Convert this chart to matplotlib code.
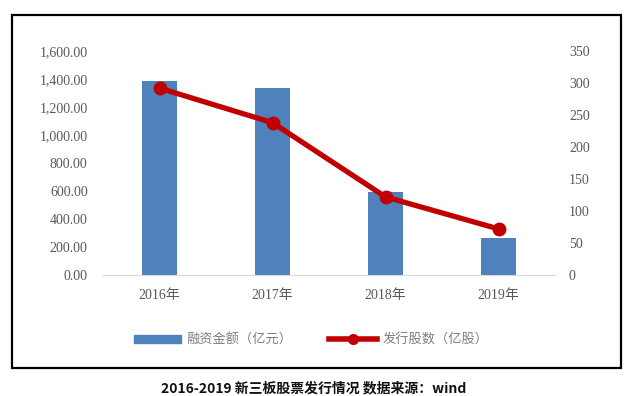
import matplotlib.pyplot as plt
import matplotlib.patches as mpatches
from matplotlib.lines import Line2D
from matplotlib.ticker import FuncFormatter
import numpy as np

years = ["2016年", "2017年", "2018年", "2019年"]
amount = [1385, 1333, 596, 264]      # 融资金额（亿元）
shares = [292, 238, 122, 72]         # 发行股数（亿股）

bar_color = "#4f81bd"
line_color = "#c00000"
text_color = "#595959"
fonts = ["Liberation Serif", "Noto Sans CJK SC"]

fig = plt.figure(figsize=(6.35, 3.96), dpi=100)
W, H = 635, 396

# outer frame
fig.patches.append(mpatches.Rectangle((12 / W, 1 - 368 / H), 609 / W, 353 / H,
                                      transform=fig.transFigure, fill=False,
                                      edgecolor="black", linewidth=1.6))

ax = fig.add_axes([103 / W, 1 - 275 / H, 452 / W, 224 / H])
x = np.arange(len(years))
ax.bar(x, amount, width=0.31, color=bar_color, zorder=2)
ax.set_xlim(-0.5, len(years) - 0.5)
ax.set_ylim(0, 1600)
ax.set_yticks(np.arange(0, 1601, 200))
ax.yaxis.set_major_formatter(FuncFormatter(lambda v, p: f"{v:,.2f}"))
ax.set_xticks(x)
ax.set_xticklabels(years)
for s in ["top", "right", "left"]:
    ax.spines[s].set_visible(False)
ax.spines["bottom"].set_color("#d9d9d9")
ax.tick_params(length=0, colors=text_color, labelsize=10)
ax.tick_params(axis="x", pad=10)
ax.tick_params(axis="y", pad=11)
for lab in ax.get_xticklabels() + ax.get_yticklabels():
    lab.set_family(fonts)

ax2 = ax.twinx()
ax2.plot(x, shares, color=line_color, linewidth=3.8, marker="o", markersize=9, zorder=3)
ax2.set_ylim(0, 350)
ax2.set_yticks(np.arange(0, 351, 50))
for s in ["top", "right", "left", "bottom"]:
    ax2.spines[s].set_visible(False)
ax2.tick_params(length=0, colors=text_color, labelsize=10, pad=10)
for lab in ax2.get_yticklabels():
    lab.set_family(fonts)

handles = [mpatches.Patch(color=bar_color),
           Line2D([0], [0], color=line_color, linewidth=4, marker="o", markersize=7)]
leg = fig.legend(handles, ["融资金额（亿元）", "发行股数（亿股）"], ncol=2,
                 loc="center", bbox_to_anchor=(311 / W, 1 - 340 / H), frameon=False,
                 handlelength=3.6, handleheight=0.5, handletextpad=0.4,
                 columnspacing=2.8,
                 prop={"family": "Noto Sans CJK SC", "size": 9.5})
for t in leg.get_texts():
    t.set_color("#7f7f7f")

fig.text(314 / W, 1 - 388 / H, "2016-2019 新三板股票发行情况 数据来源：wind",
         ha="center", va="center", fontsize=10, fontweight="bold",
         family=["Noto Sans CJK SC", "DejaVu Sans"], color="#111111")

fig.savefig("out.png", dpi=100)
